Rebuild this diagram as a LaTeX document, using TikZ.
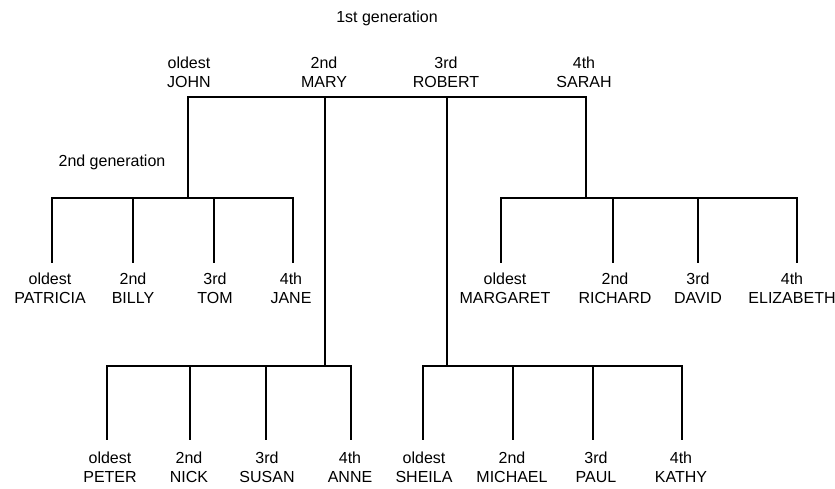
\documentclass[tikz,border=0pt]{standalone}
\usepackage{fontspec}
\setmainfont{Liberation Sans}
\begin{document}
\begin{tikzpicture}[x=1pt,y=-1pt,
  lbl/.style={align=center,inner sep=0pt,anchor=north,font=\fontsize{16}{18.5}\selectfont},
  genlbl/.style={inner sep=0pt,font=\fontsize{16}{18.5}\selectfont},
  link/.style={line width=1.1pt,line cap=rect},
  drop/.style={line width=1.1pt,shorten >=10pt},
  drop3/.style={line width=1.1pt,shorten >=12pt}]
\useasboundingbox (0,0) rectangle (835,488);

% generation labels
\node[genlbl] (g1) at (387,18) {1st generation};
\node[genlbl] (g2) at (112,162) {2nd generation};

% first generation
\node[lbl] (john)   at (189,57) {oldest\\JOHN};
\node[lbl] (mary)   at (324,57) {2nd\\MARY};
\node[lbl] (robert) at (446,57) {3rd\\ROBERT};
\node[lbl] (sarah)  at (584,57) {4th\\SARAH};

% second generation (John's and Sarah's children)
\node[lbl] (patricia)  at (50,273)  {oldest\\PATRICIA};
\node[lbl] (billy)     at (133,273) {2nd\\BILLY};
\node[lbl] (tom)       at (215,273) {3rd\\TOM};
\node[lbl] (jane)      at (291,273) {4th\\JANE};
\node[lbl] (margaret)  at (505,273) {oldest\\MARGARET};
\node[lbl] (richard)   at (615,273) {2nd\\RICHARD};
\node[lbl] (david)     at (698,273) {3rd\\DAVID};
\node[lbl] (elizabeth) at (792,273) {4th\\ELIZABETH};

% second generation (Mary's and Robert's children)
\node[lbl] (peter)   at (110,452) {oldest\\PETER};
\node[lbl] (nick)    at (189,452) {2nd\\NICK};
\node[lbl] (susan)   at (267,452) {3rd\\SUSAN};
\node[lbl] (anne)    at (350,452) {4th\\ANNE};
\node[lbl] (sheila)  at (424,452) {oldest\\SHEILA};
\node[lbl] (michael) at (512,452) {2nd\\MICHAEL};
\node[lbl] (paul)    at (596,452) {3rd\\PAUL};
\node[lbl] (kathy)   at (681,452) {4th\\KATHY};

% junction coordinates
\coordinate (tJ) at (188,97);
\coordinate (tM) at (325,97);
\coordinate (tR) at (447,97);
\coordinate (tS) at (586,97);
\coordinate (bJ) at (188,198);
\coordinate (bM) at (325,366);
\coordinate (bR) at (447,366);
\coordinate (bS) at (586,198);

\coordinate (cPat) at (52,198);
\coordinate (cBil) at (133,198);
\coordinate (cTom) at (214,198);
\coordinate (cJan) at (293,198);
\coordinate (cMar) at (501,198);
\coordinate (cRic) at (613,198);
\coordinate (cDav) at (698,198);
\coordinate (cEli) at (797,198);

\coordinate (cPet) at (107,366);
\coordinate (cNic) at (190,366);
\coordinate (cSus) at (266,366);
\coordinate (cAnn) at (351,366);
\coordinate (cShe) at (423,366);
\coordinate (cMic) at (513,366);
\coordinate (cPau) at (593,366);
\coordinate (cKat) at (682,366);

% first generation bar and drops
\draw[link] (tJ) -- (tS);
\draw[link] (tJ) -- (bJ);
\draw[link] (tM) -- (bM);
\draw[link] (tR) -- (bR);
\draw[link] (tS) -- (bS);

% children bars
\draw[link] (cPat) -- (cJan);
\draw[link] (cMar) -- (cEli);
\draw[link] (cPet) -- (cAnn);
\draw[link] (cShe) -- (cKat);

% drops to children
\draw[drop] (cPat) -- (cPat |- patricia.north);
\draw[drop] (cBil) -- (cBil |- billy.north);
\draw[drop] (cTom) -- (cTom |- tom.north);
\draw[drop] (cJan) -- (cJan |- jane.north);
\draw[drop] (cMar) -- (cMar |- margaret.north);
\draw[drop] (cRic) -- (cRic |- richard.north);
\draw[drop] (cDav) -- (cDav |- david.north);
\draw[drop] (cEli) -- (cEli |- elizabeth.north);

\draw[drop3] (cPet) -- (cPet |- peter.north);
\draw[drop3] (cNic) -- (cNic |- nick.north);
\draw[drop3] (cSus) -- (cSus |- susan.north);
\draw[drop3] (cAnn) -- (cAnn |- anne.north);
\draw[drop3] (cShe) -- (cShe |- sheila.north);
\draw[drop3] (cMic) -- (cMic |- michael.north);
\draw[drop3] (cPau) -- (cPau |- paul.north);
\draw[drop3] (cKat) -- (cKat |- kathy.north);
\end{tikzpicture}
\end{document}
